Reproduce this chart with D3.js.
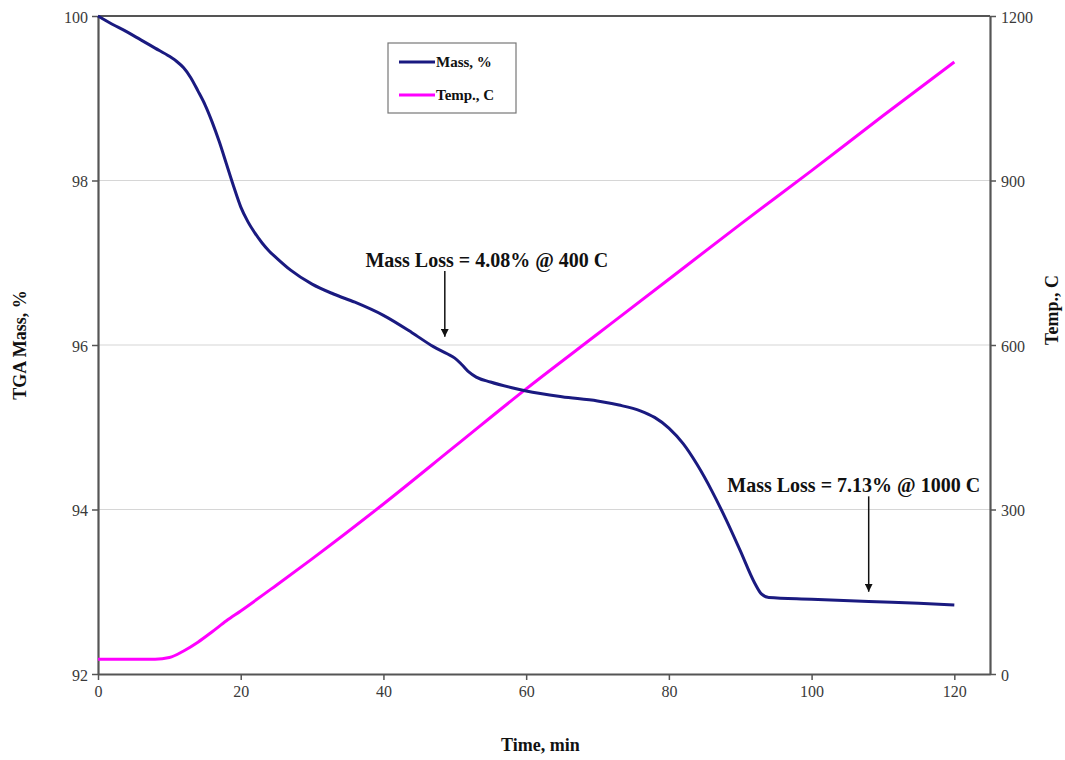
<!DOCTYPE html>
<html>
<head>
<meta charset="utf-8">
<script src="https://cdn.jsdelivr.net/npm/d3@7"></script>
<style>
  body { margin: 0; background: #fff; }
  svg { display: block; font-family: "Liberation Serif", "Times New Roman", serif; }
  .tick text { fill: #3a3a3a; font-size: 16px; font-family: "Liberation Serif", "Times New Roman", serif; }
  .axisTitle { font-weight: bold; font-size: 18px; fill: #111; }
  .note { font-weight: bold; font-size: 20px; fill: #111; }
</style>
</head>
<body>
<svg id="chart"></svg>
<script>
// time, min
const massTime = [0, 2, 4, 6, 8, 10, 11, 12, 13, 14, 15, 16, 17, 18, 19, 20, 21, 22, 23, 24, 25, 27, 30, 33, 36, 40, 44, 47, 49, 50, 51, 52, 53, 55, 58, 60, 65, 70, 73, 76, 78, 80, 82, 84, 86, 88, 90, 92, 93, 94, 100, 108, 115, 120];
// TGA mass, %
const massValues = [100, 99.9, 99.81, 99.71, 99.61, 99.51, 99.45, 99.37, 99.25, 99.09, 98.92, 98.71, 98.47, 98.2, 97.93, 97.68, 97.5, 97.36, 97.24, 97.14, 97.06, 96.91, 96.74, 96.62, 96.52, 96.36, 96.15, 95.98, 95.89, 95.84, 95.76, 95.67, 95.61, 95.55, 95.48, 95.44, 95.37, 95.32, 95.27, 95.2, 95.12, 94.99, 94.8, 94.54, 94.23, 93.88, 93.5, 93.11, 92.97, 92.93, 92.91, 92.88, 92.86, 92.84];

const tempTime = [0, 8, 10, 12, 14, 16, 18, 20, 25, 30, 40, 50, 60, 70, 80, 90, 100, 110, 120];
// Temp., C
const tempValues = [27, 27, 30, 42, 58, 77, 97, 115, 162, 210, 310, 415, 520, 620, 720, 820, 918, 1018, 1116];

const xTicks = [0, 20, 40, 60, 80, 100, 120];
const massTicks = [92, 94, 96, 98, 100];
const tempTicks = [0, 300, 600, 900, 1200];

const notes = [
  { label: "Mass Loss = 4.08% @ 400 C", t: 48.6, fromMass: 96.9, toMass: 96.1 },
  { label: "Mass Loss = 7.13% @ 1000 C", t: 108, fromMass: 94.16, toMass: 93.0 }
];

const margin = { top: 16, right: 75, bottom: 86, left: 98 };
const totalW = 1065, totalH = 760;
const width = totalW - margin.left - margin.right;
const height = totalH - margin.top - margin.bottom;

const svg = d3.select("#chart")
  .attr("width", totalW)
  .attr("height", totalH);

const g = svg.append("g")
  .attr("transform", `translate(${margin.left},${margin.top})`);

const x = d3.scaleLinear().domain([0, 125]).range([0, width]);
const yMass = d3.scaleLinear().domain([92, 100]).range([height, 0]);
const yTemp = d3.scaleLinear().domain([0, 1200]).range([height, 0]);

// gridlines
g.append("g")
  .selectAll("line")
  .data(massTicks.filter(d => d > 92 && d < 100))
  .enter()
  .append("line")
  .attr("x1", 0)
  .attr("x2", width)
  .attr("y1", d => yMass(d))
  .attr("y2", d => yMass(d))
  .attr("stroke", "#d6d6d6")
  .attr("stroke-width", 1.2);

// axes
const styleAxis = sel => {
  sel.attr("font-family", null).attr("font-size", null);
  sel.select(".domain").attr("stroke", "#555").attr("stroke-width", 2.2);
  sel.selectAll(".tick line").attr("stroke", "#555").attr("stroke-width", 1.5);
};

g.append("g")
  .attr("transform", `translate(0,${height})`)
  .call(d3.axisBottom(x).tickValues(xTicks).tickSize(6).tickSizeOuter(0).tickPadding(6))
  .call(styleAxis);

g.append("g")
  .call(d3.axisLeft(yMass).tickValues(massTicks).tickSize(6).tickSizeOuter(0).tickPadding(4))
  .call(styleAxis)
  .selectAll(".tick text").attr("dy", "0.4em");

g.append("g")
  .attr("transform", `translate(${width},0)`)
  .call(d3.axisRight(yTemp).tickValues(tempTicks).tickFormat(d3.format("d")).tickSize(6).tickSizeOuter(0).tickPadding(5))
  .call(styleAxis)
  .selectAll(".tick text").attr("dy", "0.4em");

// top frame
g.append("line")
  .attr("x1", 0).attr("x2", width)
  .attr("y1", 0).attr("y2", 0)
  .attr("stroke", "#555")
  .attr("stroke-width", 2.2);

// lines
const tempLine = d3.line()
  .x((d, i) => x(tempTime[i]))
  .y(d => yTemp(d))
  .curve(d3.curveMonotoneX);

const massLine = d3.line()
  .x((d, i) => x(massTime[i]))
  .y(d => yMass(d))
  .curve(d3.curveMonotoneX);

g.append("path")
  .datum(tempValues)
  .attr("fill", "none")
  .attr("stroke", "#ff00ff")
  .attr("stroke-width", 3)
  .attr("d", tempLine);

g.append("path")
  .datum(massValues)
  .attr("fill", "none")
  .attr("stroke", "#1a1a80")
  .attr("stroke-width", 3)
  .attr("d", massLine);

// arrows + notes
svg.append("defs").append("marker")
  .attr("id", "arrowHead")
  .attr("viewBox", "0 0 10 10")
  .attr("refX", 10)
  .attr("refY", 5)
  .attr("markerWidth", 8)
  .attr("markerHeight", 8)
  .attr("markerUnits", "userSpaceOnUse")
  .attr("orient", "auto")
  .append("path")
  .attr("d", "M0,0 L10,5 L0,10 Z")
  .attr("fill", "#111");

notes.forEach(n => {
  g.append("line")
    .attr("x1", x(n.t))
    .attr("x2", x(n.t))
    .attr("y1", yMass(n.fromMass))
    .attr("y2", yMass(n.toMass))
    .attr("stroke", "#111")
    .attr("stroke-width", 1.5)
    .attr("marker-end", "url(#arrowHead)");
});

g.append("text")
  .attr("class", "note")
  .attr("x", x(48.6) + 42)
  .attr("y", yMass(96.95))
  .attr("text-anchor", "middle")
  .text(notes[0].label);

g.append("text")
  .attr("class", "note")
  .attr("x", x(108) - 15)
  .attr("y", yMass(94.21))
  .attr("text-anchor", "middle")
  .text(notes[1].label);

// legend
const legend = g.append("g").attr("transform", "translate(290,27)");
legend.append("rect")
  .attr("width", 128)
  .attr("height", 70)
  .attr("fill", "#fff")
  .attr("stroke", "#777")
  .attr("stroke-width", 1.2);

const legendItems = [
  { name: "Mass, %", color: "#1a1a80" },
  { name: "Temp., C", color: "#ff00ff" }
];

legendItems.forEach((d, i) => {
  const row = legend.append("g").attr("transform", `translate(11,${19 + i * 33})`);
  row.append("line")
    .attr("x1", 0).attr("x2", 36)
    .attr("stroke", d.color)
    .attr("stroke-width", 3);
  row.append("text")
    .attr("x", 37)
    .attr("dy", "0.35em")
    .style("font-weight", "bold")
    .style("font-size", "15px")
    .attr("fill", "#111")
    .text(d.name);
});

// axis titles
svg.append("text")
  .attr("class", "axisTitle")
  .attr("x", margin.left + x(62))
  .attr("y", 751)
  .attr("text-anchor", "middle")
  .text("Time, min");

svg.append("text")
  .attr("class", "axisTitle")
  .attr("transform", `translate(26,${margin.top + height / 2}) rotate(-90)`)
  .attr("text-anchor", "middle")
  .text("TGA Mass, %");

svg.append("text")
  .attr("class", "axisTitle")
  .attr("transform", `translate(1058,${310}) rotate(-90)`)
  .attr("text-anchor", "middle")
  .text("Temp., C");
</script>
</body>
</html>
